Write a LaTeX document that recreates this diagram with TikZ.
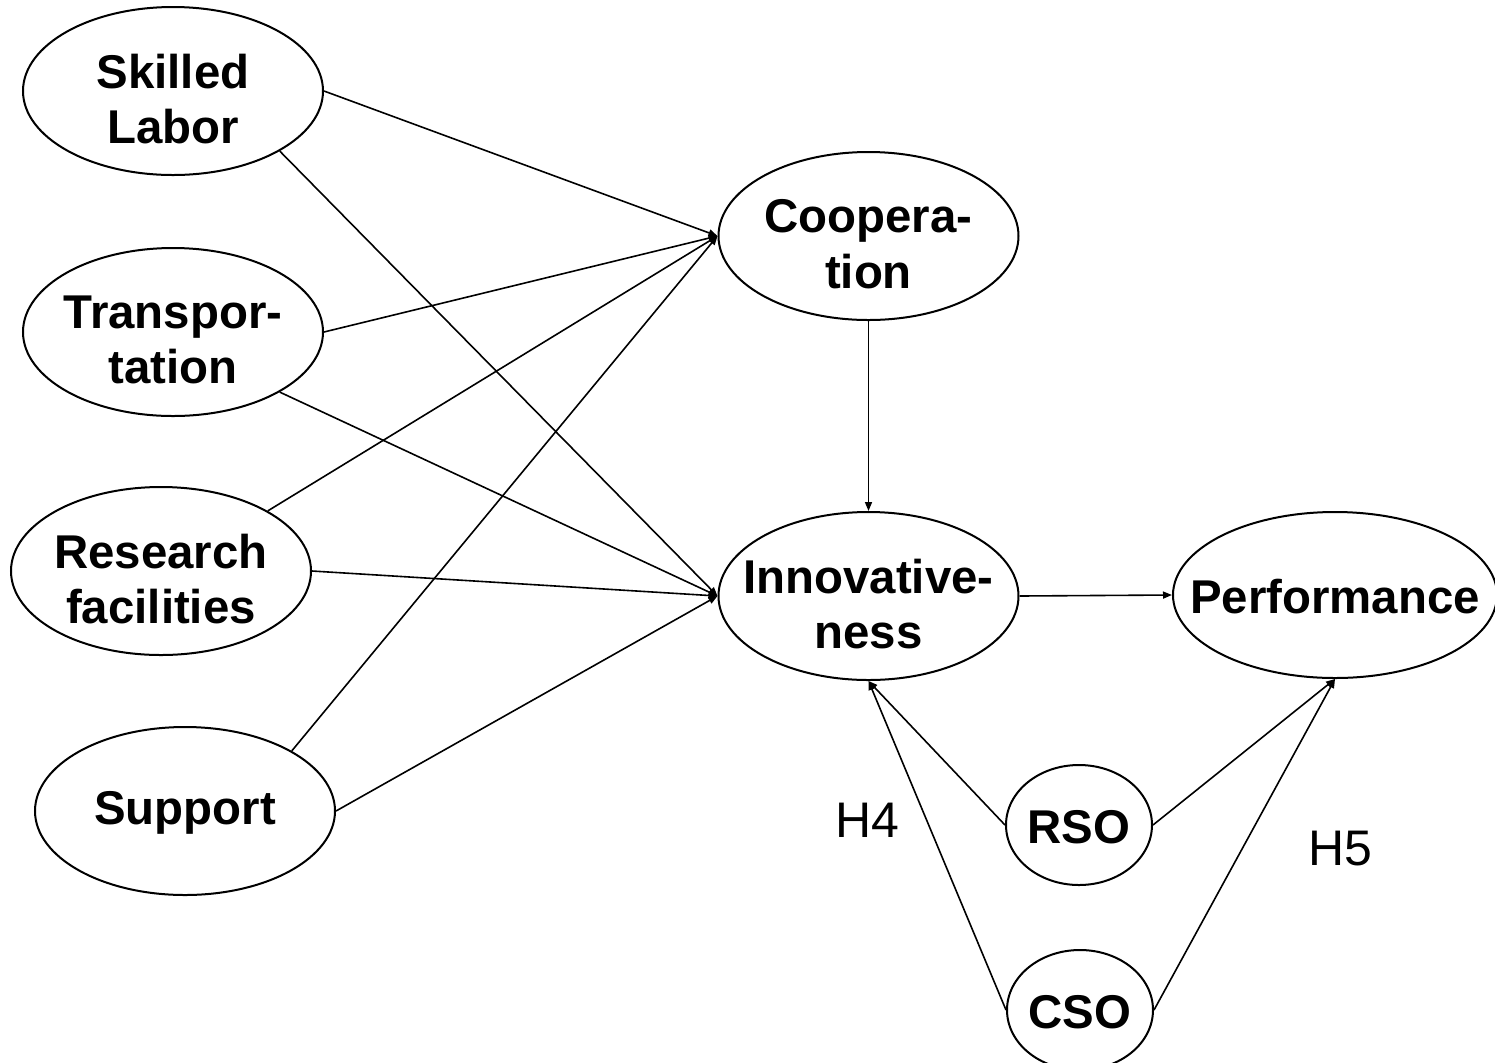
\documentclass[tikz,border=0pt]{standalone}
\usepackage{fontspec}
\setmainfont{Liberation Sans}
\usetikzlibrary{shapes.geometric,arrows.meta}

\begin{document}
\begin{tikzpicture}[x=0.5pt,y=-0.5pt,
  oval/.style={draw, ellipse, line width=1pt, inner sep=0pt,
               minimum width=150pt, minimum height=84pt},
  smalloval/.style={oval, minimum width=73pt, minimum height=60pt},
  lab/.style={font=\bfseries\fontsize{23.7}{27.7}\selectfont, align=center,
              inner sep=0pt, yshift=-1pt},
  twolab/.style={lab, yshift=-3pt},
  link/.style={line width=0.8pt, -{Triangle[length=4.5pt,width=3.5pt]}},
  hyp/.style={font=\fontsize{25}{30}\selectfont, inner sep=0pt}]

  % canvas
  \clip (0,0) rectangle (1495,1062);

  % determinants
  \node[oval, label={[twolab]center:Skilled\\Labor}] (sl) at (173,91) {};
  \node[oval, label={[twolab]center:Transpor-\\tation}] (tr) at (173,332) {};
  \node[oval, label={[twolab]center:Research\\facilities}] (rf) at (161,571) {};
  \node[oval, label={[lab]center:Support}] (sp) at (185,811) {};

  % mediators and outcome
  \node[oval, label={[twolab]center:Coopera-\\tion}] (co) at (868.5,236) {};
  \node[oval, label={[twolab]center:Innovative-\\ness}] (in) at (868.5,596) {};
  \node[oval, minimum width=162pt, minimum height=83pt,
        label={[lab]center:Performance}] (pf) at (1335,595) {};

  % moderators
  \node[smalloval, label={[lab]center:RSO}] (rso) at (1079,825) {};
  \node[smalloval, label={[lab]center:CSO}] (cso) at (1080,1010) {};

  % hypothesis labels
  \node[hyp] (h4) at (867,820) {H4};
  \node[hyp] (h5) at (1340,849) {H5};

  % paths to cooperation
  \draw[link] (sl.east) -- (co.west);
  \draw[link] (tr.east) -- (co.west);
  \draw[link] (rf.north east) -- (co.west);
  \draw[link] (sp.north east) -- (co.west);

  % paths to innovativeness
  \draw[link] (sl.south east) -- (in.west);
  \draw[link] (tr.south east) -- (in.west);
  \draw[link] (rf.east) -- (in.west);
  \draw[link] (sp.east) -- (in.west);
  \draw[link] (co.south) -- (in.north);

  % innovativeness to performance
  \draw[link] (in.east) -- (pf.west);

  % moderating paths
  \draw[link] (rso.west) -- (in.south);
  \draw[link] (cso.west) -- (in.south);
  \draw[link] (rso.east) -- (pf.south);
  \draw[link] (cso.east) -- (pf.south);
\end{tikzpicture}
\end{document}
